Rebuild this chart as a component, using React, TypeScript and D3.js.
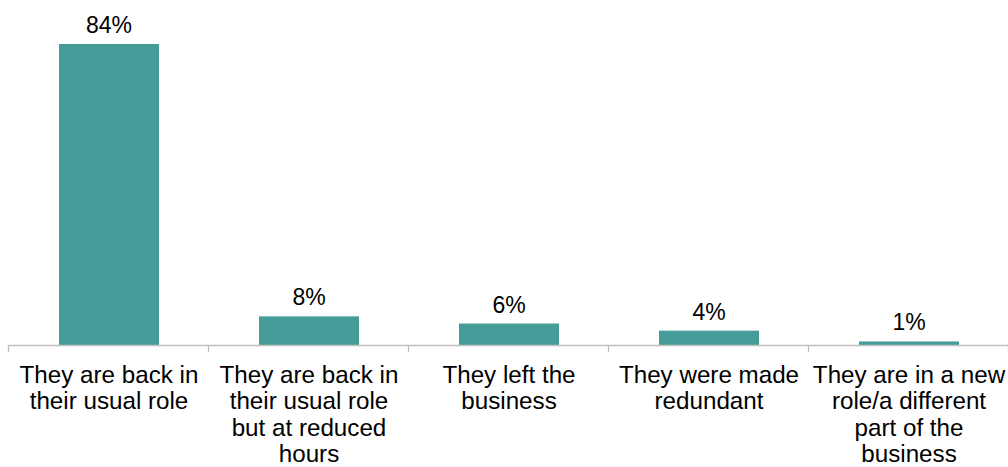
import React from "react";
import * as d3 from "d3";

const categories: string[] = [
  "They are back in\ntheir usual role",
  "They are back in\ntheir usual role\nbut at reduced\nhours",
  "They left the\nbusiness",
  "They were made\nredundant",
  "They are in a new\nrole/a different\npart of the\nbusiness",
];
const values: number[] = [84, 8, 6, 4, 1];
const valueLabels: string[] = ["84%", "8%", "6%", "4%", "1%"];

const W = 1008;
const H = 467;
const FONT = "'Liberation Sans', Arial, sans-serif";

export default function App() {
  const x = d3
    .scaleBand<number>()
    .domain(categories.map((_, i) => i))
    .range([9, 1009])
    .paddingInner(0.5)
    .paddingOuter(0.25);
  const y = d3.scaleLinear().domain([0, 84]).range([345, 44]);
  const step = x.step();
  const y0 = y(0);

  return (
    <svg
      width={W}
      height={H}
      style={{ position: "absolute", left: 0, top: 0, background: "#fff" }}
      fontFamily={FONT}
    >
      {values.map((v, i) => {
        const bx = x(i)!;
        return (
          <g key={i}>
            <rect x={bx} y={y(v)} width={x.bandwidth()} height={y0 - y(v)} fill="#469c99" />
            <text
              x={bx + x.bandwidth() / 2}
              y={y(v) - 11}
              textAnchor="middle"
              fontSize={23}
              fill="#000"
            >
              {valueLabels[i]}
            </text>
          </g>
        );
      })}
      <line x1={8.5} x2={W} y1={y0 + 0.5} y2={y0 + 0.5} stroke="#bfbfbf" strokeWidth={1.3} />
      {d3.range(categories.length + 1).map((i) => {
        const tx = 8.5 + i * step;
        return <line key={i} x1={tx} x2={tx} y1={y0} y2={y0 + 7} stroke="#bfbfbf" strokeWidth={1.3} />;
      })}
      {categories.map((c, i) => {
        const cx = x(i)! + x.bandwidth() / 2;
        return (
          <text key={i} x={cx} textAnchor="middle" fontSize={24.2} fill="#000">
            {c.split("\n").map((ln, j) => (
              <tspan key={j} x={cx} y={382.5 + j * 26.5}>
                {ln}
              </tspan>
            ))}
          </text>
        );
      })}
    </svg>
  );
}
